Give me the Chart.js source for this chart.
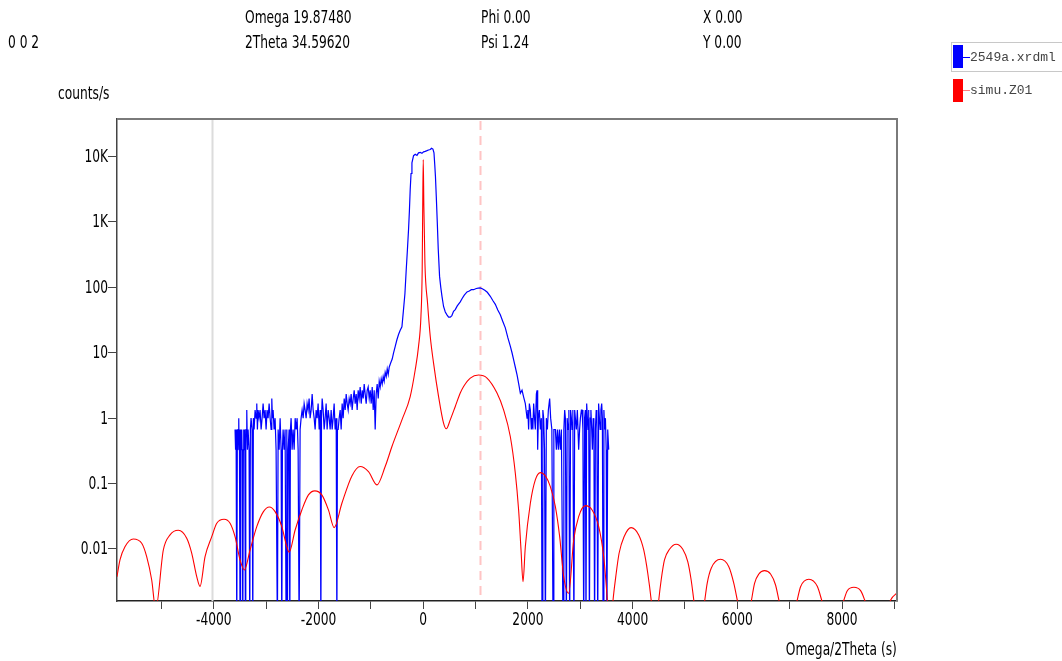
<!DOCTYPE html>
<html>
<head>
<meta charset="utf-8">
<script src="https://cdn.jsdelivr.net/npm/chart.js@4.4.1/dist/chart.umd.min.js"></script>
<style>
  body { margin: 0; background: #fff; }
  #wrap {
    position: relative; width: 1062px; height: 661px; overflow: hidden;
    font-family: "Liberation Sans Narrow", "Arial Narrow", "DejaVu Sans Condensed", "Liberation Sans", sans-serif;
    font-size: 17px; color: #000;
  }
  .t { position: absolute; white-space: nowrap; line-height: 17px; transform: scaleX(0.8); transform-origin: left center; }
  .tr { transform-origin: right center; }
  .lg { position: absolute; }
  .lgtxt { position: absolute; white-space: nowrap; font-family: "Liberation Mono", "DejaVu Sans Mono", monospace; font-size: 13px; color: #444; line-height: 13px; }
  canvas { position: absolute; left: 0; top: 0; }
</style>
</head>
<body>
<div id="wrap">
  <canvas id="xrd" width="1062" height="661"></canvas>

  <div class="t" style="left:245px;top:9px">Omega 19.87480</div>
  <div class="t" style="left:245px;top:34px">2Theta 34.59620</div>
  <div class="t" style="left:8px;top:34px">0 0 2</div>
  <div class="t" style="left:481px;top:9px">Phi 0.00</div>
  <div class="t" style="left:481px;top:34px">Psi 1.24</div>
  <div class="t" style="left:703px;top:9px">X 0.00</div>
  <div class="t" style="left:703px;top:34px">Y 0.00</div>
  <div class="t" style="left:58px;top:85px">counts/s</div>
  <div class="t tr" style="right:165px;top:641px">Omega/2Theta (s)</div>

  <!-- legend -->
  <div class="lg" style="left:951px;top:42px;width:120px;height:28px;border:1px solid #c8c8c8"></div>
  <div class="lg" style="left:953px;top:45px;width:10px;height:23px;background:#0000ff"></div>
  <div class="lg" style="left:963px;top:57px;width:7px;height:1px;background:#0000ff"></div>
  <div class="lgtxt" style="left:970px;top:51px">2549a.xrdml</div>
  <div class="lg" style="left:953px;top:79px;width:10px;height:23px;background:#ff0000"></div>
  <div class="lg" style="left:963px;top:90px;width:7px;height:1px;background:#ff8080"></div>
  <div class="lgtxt" style="left:970px;top:84px">simu.Z01</div>
</div>

<script>
// axis ranges and ticks
const xMin = -5850, xMax = 9050;
const yMin = 0.0016, yMax = 37500;
const xTicks = [-5000, -4000, -3000, -2000, -1000, 0, 1000, 2000, 3000, 4000, 5000, 6000, 7000, 8000, 9000];
const xTickLabels = ['', '-4000', '', '-2000', '', '0', '', '2000', '', '4000', '', '6000', '', '8000', ''];
const yTicks = [0.01, 0.1, 1, 10, 100, 1000, 10000];
const yTickLabels = ['0.01', '0.1', '1', '10', '100', '1K', '10K'];

// reference lines
const grayLineX = -4040;
const dashLineX = 1090;

// zero count rate cannot sit on a log axis, it is drawn below the frame
const zeroFloor = 0.0005;

// simulation, [Omega/2Theta (s), counts/s]
const simu = [
  [-5850,0.00377],[-5793,0.00678],[-5698,0.0108],[-5539,0.0142],[-5378,0.0122],[-5283,0.00762],
  [-5187,0.00335],[-5111,0.0012],[-4965,0.00964],[-4837,0.0164],[-4679,0.0193],[-4518,0.0146],
  [-4422,0.00859],[-4327,0.00377],[-4264,0.00268],[-4168,0.00762],[-4040,0.0154],[-3944,0.0247],
  [-3805,0.0284],[-3690,0.0247],[-3595,0.0154],[-3499,0.00678],[-3417,0.00476],[-3308,0.00964],
  [-3180,0.0219],[-3053,0.0372],[-2939,0.0439],[-2830,0.0372],[-2702,0.0219],[-2606,0.0108],
  [-2562,0.0089],[-2447,0.0195],[-2319,0.0395],[-2193,0.067],[-2071,0.0773],[-1937,0.067],
  [-1811,0.0395],[-1702,0.0212],[-1554,0.05],[-1363,0.131],[-1205,0.182],[-1046,0.152],
  [-885,0.0953],[-727,0.182],[-598,0.368],[-407,0.942],[-249,2.14],[-153,5.49],[-90,12.5],
  [-44,36],[-20,186],[-10,1734],[0,9000],[12,1734],[32,236],[82,57.6],[134,17.7],[197,6.95],
  [293,2.14],[388,0.839],[440,0.687],[516,0.942],[612,1.51],[707,2.42],[771,3.05],[899,4.1],
  [1057,4.56],[1218,4.1],[1409,2.42],[1535,1.34],[1663,0.524],[1759,0.144],[1822,0.0395],
  [1868,0.00964],[1906,0.00316],[1950,0.0108],[2046,0.05],[2141,0.114],[2237,0.147],[2333,0.131],
  [2428,0.0897],[2524,0.0444],[2606,0.0154],[2683,0.00377],[2778,0.0021],[2874,0.0137],
  [2969,0.0312],[3097,0.046],[3226,0.0395],[3352,0.0219],[3447,0.00762],[3512,0.00186],
  [3566,0.0004],[3626,0.00166],[3678,0.00377],[3741,0.00859],[3836,0.0154],[3971,0.0212],
  [4116,0.0164],[4212,0.00964],[4289,0.00425],[4354,0.00166],[4426,0.0004],[4499,0.00166],
  [4545,0.00335],[4608,0.00678],[4704,0.00989],[4832,0.0118],[4958,0.00989],[5053,0.00638],
  [5118,0.00335],[5168,0.00166],[5273,0.0004],[5379,0.00166],[5424,0.00298],[5501,0.00506],
  [5679,0.00695],[5837,0.00536],[5933,0.00298],[5998,0.00166],[6136,0.0004],[6271,0.00166],
  [6329,0.00298],[6411,0.00414],[6520,0.00466],[6635,0.00414],[6730,0.00281],[6793,0.00166],
  [6969,0.0004],[7145,0.00166],[7208,0.00265],[7367,0.00344],[7527,0.00268],[7610,0.00166],
  [7820,0.0004],[8036,0.00166],[8101,0.0023],[8227,0.00259],[8355,0.0023],[8432,0.00166],
  [8680,0.0004],[8929,0.00166],[9057,0.00214]
];

// measured scan 2549a.xrdml, [Omega/2Theta (s), counts/s]
const meas = [
  [-3595,0.67],[-3585,0.33],[-3575,0.67],[-3562,0],[-3551,0.67],[-3544,0.33],[-3537,0.67],[-3524,1],
  [-3518,0.33],[-3512,0.67],[-3499,0],[-3492,0.33],[-3486,0.67],[-3474,0.33],[-3467,0.67],[-3461,0.33],
  [-3447,0],[-3436,0.33],[-3429,0.67],[-3422,0.33],[-3409,0.67],[-3397,0],[-3390,0.33],[-3384,0.67],
  [-3371,1.33],[-3359,0.33],[-3346,0.67],[-3327,0.33],[-3314,0],[-3302,0.67],[-3289,1],[-3270,0.67],
  [-3256,0],[-3245,1],[-3231,0.67],[-3212,1.33],[-3193,1],[-3180,1.67],[-3168,0.67],[-3155,1.33],
  [-3136,1],[-3117,1.33],[-3097,0.67],[-3078,1],[-3059,1.67],[-3040,1],[-3021,1.33],[-3002,0.67],
  [-2983,1.33],[-2964,1],[-2944,1.67],[-2925,1],[-2906,0.67],[-2893,2],[-2881,1],[-2868,1.33],
  [-2849,0.67],[-2830,1],[-2811,0.33],[-2786,0],[-2772,0.67],[-2753,0.33],[-2734,1],[-2715,0.33],
  [-2702,0],[-2690,0.33],[-2677,0.67],[-2658,0.33],[-2639,0.67],[-2619,0],[-2606,0.67],[-2595,0],
  [-2581,0.33],[-2562,0.67],[-2549,0],[-2537,0.67],[-2524,1],[-2505,0.33],[-2486,0.67],[-2466,0.33],
  [-2447,1],[-2428,0.67],[-2409,1],[-2390,0.33],[-2371,0],[-2352,0.67],[-2333,1],[-2314,1.33],
  [-2294,1],[-2275,1.67],[-2256,1.33],[-2237,1],[-2218,1.67],[-2199,1.33],[-2180,2],[-2161,1],
  [-2141,1.33],[-2122,2.33],[-2103,1.33],[-2084,1],[-2065,0.67],[-2046,1.33],[-2027,1],[-2008,1.67],
  [-1988,0.67],[-1969,1.33],[-1956,0],[-1944,1],[-1931,2],[-1912,1.33],[-1893,0.67],[-1874,1],
  [-1855,1.67],[-1836,0.67],[-1816,1.33],[-1797,1],[-1778,0.67],[-1759,1.33],[-1740,0.67],[-1721,1],
  [-1702,1.67],[-1683,0.67],[-1663,1],[-1650,0],[-1639,0.67],[-1625,0.67],[-1606,1],[-1587,1.33],
  [-1568,0.67],[-1549,1.67],[-1530,1],[-1510,2],[-1491,1.33],[-1472,2.33],[-1453,1.67],[-1434,1.33],
  [-1415,2],[-1396,1.67],[-1377,2.33],[-1358,1.33],[-1338,2],[-1319,2.67],[-1300,1.67],[-1281,2.33],
  [-1262,1.33],[-1243,2.67],[-1224,2],[-1205,3],[-1185,1.67],[-1166,2.67],[-1147,2],[-1128,3.33],
  [-1109,2.33],[-1090,1.67],[-1071,2.67],[-1052,3],[-1032,2],[-1013,2.67],[-994,1.67],[-975,3],
  [-956,1.33],[-937,2.67],[-918,0.67],[-899,2.33],[-880,3.33],[-860,2],[-841,3.67],[-822,3],
  [-803,4],[-784,3.33],[-765,4.33],[-746,3.67],[-727,5],[-707,4.33],[-688,5.67],[-669,4.67],
  [-650,6],[-631,6.67],[-612,7.33],[-593,8],[-568,9.9],[-535,12.5],[-503,15.8],[-472,19],
  [-440,22],[-407,25],[-377,45.7],[-350,80],[-325,186],[-302,380],[-281,762],[-264,1500],
  [-249,3130],[-233,5500],[-216,8000],[-185,10300],[-153,10800],[-120,10400],[-90,11400],[-57,11600],
  [-25,11200],[6,11800],[38,12000],[71,12300],[101,12600],[134,12800],[159,13400],[185,13000],
  [205,11400],[220,7500],[233,5000],[249,2470],[268,1000],[287,380],[312,147],[335,100],
  [358,72.9],[388,51],[421,42],[453,38],[484,35],[516,35],[547,37],[579,43],
  [612,45.7],[650,52],[707,60],[746,68],[784,76],[836,85],[880,88],[918,92],
  [962,92],[1013,96],[1052,97],[1090,98],[1128,95],[1176,90],[1224,84],[1281,73],
  [1329,63],[1377,55],[1424,45],[1472,38],[1520,30],[1568,24],[1616,17],[1663,12.6],
  [1696,10],[1727,7.8],[1759,6],[1792,4.6],[1822,3.4],[1855,2.4],[1887,2.67],[1918,2.1],
  [1950,1.67],[1983,1],[1998,1.33],[2013,0.67],[2027,1.67],[2046,1.33],[2065,0.67],[2078,1],
  [2094,0.67],[2109,1.67],[2126,1],[2141,0.67],[2161,2.33],[2174,2.67],[2186,0.33],[2199,1],
  [2218,1.33],[2237,0.67],[2256,1],[2270,0],[2285,1.33],[2300,1],[2317,0.33],[2333,0],
  [2352,1],[2371,0.67],[2390,1.33],[2415,2],[2434,1],[2457,0.67],[2480,0],[2495,0.67],
  [2524,0.67],[2543,0.33],[2562,0.67],[2581,0.33],[2600,0.67],[2619,0.33],[2639,0.67],[2671,0],
  [2686,0.67],[2702,1.33],[2715,1],[2734,0],[2749,1],[2767,0.67],[2782,1.33],[2797,0],
  [2815,1.33],[2830,1],[2843,0.67],[2858,1.33],[2878,0],[2893,1.33],[2906,1],[2925,0.67],
  [2944,1.33],[2969,0.33],[2987,0.67],[3002,1],[3021,1.33],[3034,1.33],[3050,0.67],[3065,0],
  [3082,1],[3097,1.33],[3109,0],[3122,1.67],[3136,1],[3149,0.67],[3161,1.33],[3174,0],
  [3189,1],[3203,1.33],[3218,0.67],[3231,0.33],[3246,1],[3260,0.67],[3273,0],[3289,0.67],
  [3304,1.33],[3317,1],[3333,0],[3350,1.67],[3365,1],[3380,0.67],[3394,1.33],[3409,1.67],
  [3422,1],[3436,0],[3451,1.33],[3465,0.67],[3480,1],[3495,0.33],[3508,0],[3524,0.67],
  [3543,0.33]
];

const FONT = '"Liberation Sans Narrow", "Arial Narrow", "DejaVu Sans Condensed", "Liberation Sans", sans-serif';
const FONT_SIZE = 17;
const SQUEEZE = 0.8; // the instrument software uses a condensed face

// gray marker, dashed pink marker, frame and condensed tick labels
const markers = {
  id: 'markers',
  beforeDatasetsDraw(chart) {
    const { ctx, chartArea: a, scales: { x } } = chart;
    ctx.save();
    let px = Math.round(x.getPixelForValue(grayLineX)) + 0.5;
    ctx.strokeStyle = '#dcdcdc';
    ctx.lineWidth = 2;
    ctx.beginPath(); ctx.moveTo(px, a.top); ctx.lineTo(px, a.bottom); ctx.stroke();
    px = Math.round(x.getPixelForValue(dashLineX)) + 0.5;
    ctx.strokeStyle = '#ffc4c4';
    ctx.lineWidth = 2;
    ctx.setLineDash([9, 6]);
    ctx.beginPath(); ctx.moveTo(px, a.top + 2); ctx.lineTo(px, a.bottom); ctx.stroke();
    ctx.restore();
  },
  afterDraw(chart) {
    const { ctx, chartArea: a, scales: { x, y } } = chart;
    ctx.save();
    ctx.strokeStyle = '#7a7a7a';
    ctx.lineWidth = 2;
    ctx.beginPath();
    ctx.moveTo(a.left, a.top); ctx.lineTo(a.right, a.top); ctx.lineTo(a.right, a.bottom);
    ctx.stroke();

    ctx.fillStyle = '#000';
    ctx.font = FONT_SIZE + 'px ' + FONT;
    ctx.textBaseline = 'middle';
    ctx.textAlign = 'right';
    yTicks.forEach((v, i) => {
      ctx.save();
      ctx.translate(a.left - 9, y.getPixelForValue(v) + 1);
      ctx.scale(SQUEEZE, 1);
      ctx.fillText(yTickLabels[i], 0, 0);
      ctx.restore();
    });
    ctx.textAlign = 'center';
    xTicks.forEach((v, i) => {
      if (!xTickLabels[i]) return;
      ctx.save();
      ctx.translate(x.getPixelForValue(v), a.bottom + 20);
      ctx.scale(SQUEEZE, 1);
      ctx.fillText(xTickLabels[i], 0, 0);
      ctx.restore();
    });
    ctx.restore();
  }
};

new Chart(document.getElementById('xrd'), {
  type: 'line',
  data: {
    datasets: [
      {
        label: 'simu.Z01',
        data: simu.map(p => ({ x: p[0], y: p[1] })),
        borderColor: '#ff0000',
        borderWidth: 1.1,
        pointRadius: 0,
        cubicInterpolationMode: 'monotone',
        order: 1
      },
      {
        label: '2549a.xrdml',
        data: meas.map(p => ({ x: p[0], y: p[1] > 0 ? p[1] : zeroFloor })),
        borderColor: '#0000ff',
        borderWidth: 1.2,
        pointRadius: 0,
        tension: 0,
        order: 2
      }
    ]
  },
  options: {
    responsive: false,
    animation: false,
    layout: { padding: { left: 0, top: 119, right: 165, bottom: 0 } },
    plugins: { legend: { display: false }, tooltip: { enabled: false } },
    scales: {
      x: {
        type: 'linear',
        min: xMin,
        max: xMax,
        afterBuildTicks: s => { s.ticks = xTicks.map(v => ({ value: v })); },
        afterFit: s => { s.height = 60; },
        ticks: { display: false },
        grid: { drawOnChartArea: false, tickLength: 8, color: '#444' },
        border: { color: '#222', width: 1.5 }
      },
      y: {
        type: 'logarithmic',
        min: yMin,
        max: yMax,
        afterBuildTicks: s => { s.ticks = yTicks.map(v => ({ value: v })); },
        afterFit: s => { s.width = 117; },
        ticks: { display: false },
        grid: { drawOnChartArea: false, tickLength: 9, color: '#444' },
        border: { color: '#444', width: 1.5 }
      }
    }
  },
  plugins: [markers]
});
</script>
</body>
</html>
